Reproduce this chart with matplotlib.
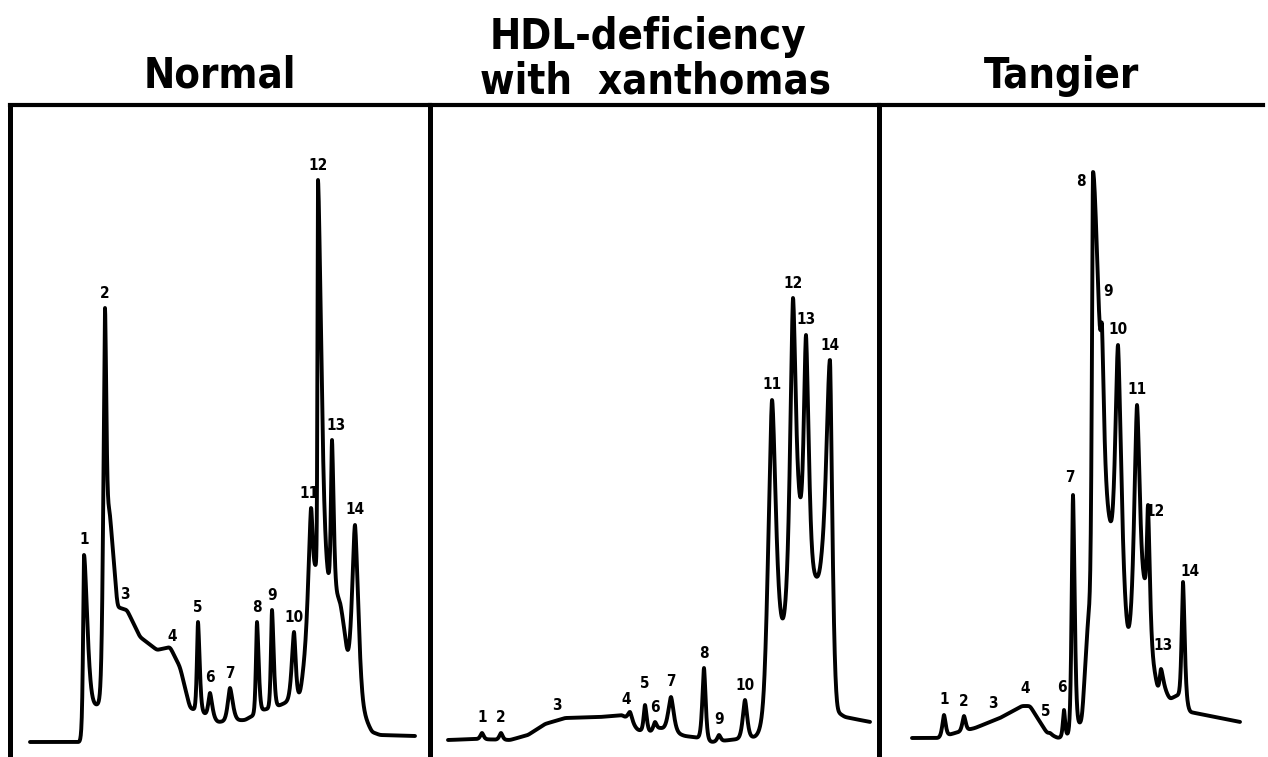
import numpy as np
import matplotlib
matplotlib.use("Agg")
import matplotlib.pyplot as plt
from matplotlib import font_manager

# condensed sans if one is installed, else Liberation Sans
faces = [(f.name, f.stretch) for f in font_manager.fontManager.ttflist]
if any(n == 'Liberation Sans Narrow' for n, s in faces):
    title_font = dict(family=['Liberation Sans Narrow', 'DejaVu Sans'], fontsize=34)
elif any(n == 'DejaVu Sans' and 'condensed' in str(s) for n, s in faces):
    title_font = dict(family=['DejaVu Sans'], fontstretch='condensed', fontsize=30)
else:
    title_font = dict(family=['Liberation Sans', 'DejaVu Sans'], fontsize=30)
plt.rcParams['font.family'] = title_font['family']

W, H = 1268, 757
titles = ["Normal", "HDL-deficiency\nwith  xanthomas", "Tangier"]
labels = [str(i) for i in range(1, 15)]

# Normal: elution position of fractions 1-14, peak height (None = shoulder), peak width left/right
normal_pos = [74, 95, 115, 162, 188, 200, 220, 247, 262, 284, 301, 308, 322, 345]
normal_top = [202, 449, None, None, 135, 64, 69, 135, 147, 125, 249, 577, 317, 232]
normal_wl = [0.8, 1.5, 0, 0, 1.0, 1.5, 2.0, 1.0, 1.0, 2.0, 2.5, 0.5, 1.0, 2.5]
normal_wr = [3.0, 1.5, 0, 0, 1.5, 2.0, 2.5, 1.5, 1.5, 1.5, 1.5, 3.0, 1.5, 3.0]
normal_base_x = [20, 71, 73, 88, 96, 99, 105, 107, 117, 130, 147, 160, 170, 180, 193, 208, 235,
                 253, 268, 282, 290, 297, 303, 306, 312, 318, 325, 330, 334, 338, 345, 352, 362, 370, 405]
normal_base_y = [15, 15, 45, 52, 60, 250, 184, 150, 147, 120, 107, 110, 90, 49, 44, 35, 37,
                 47, 51, 57, 62, 110, 170, 192, 185, 171, 163, 157, 130, 92, 80, 45, 25, 22, 21]

# HDL-deficiency with xanthomas
hdl_pos = [52, 71, 127, 200, 215, 225, 241, 274, 289, 315, 342, 363, 376, 400]
hdl_top = [24, 24, None, 45, 52, 35, 60, 89, 22, 57, 357, 459, 422, 397]
hdl_wl = [1.5, 1.5, 0, 2.0, 1.2, 1.5, 2.5, 1.5, 1.5, 2.0, 3.5, 2.5, 2.0, 3.5]
hdl_wr = [1.5, 1.5, 0, 2.0, 1.5, 1.5, 2.5, 1.5, 1.5, 2.0, 3.5, 2.5, 2.5, 2.0]
hdl_base_x = [18, 45, 80, 98, 115, 135, 170, 192, 208, 220, 230, 255, 270, 282, 300, 325, 334,
              342, 354, 369, 381, 386, 392, 399, 407, 415, 440]
hdl_base_y = [17, 18, 17, 22, 33, 39, 40, 42, 27, 25, 29, 21, 19, 15, 17, 20, 25,
              70, 128, 235, 180, 176, 166, 110, 45, 40, 35]

# Tangier
tang_pos = [65, 85, 114, 146, 171, 185, 194, 214, 223, 239, 258, 269, 282, 304]
tang_top = [42, 41, None, None, 24, 47, 262, 585, 432, 412, 352, 252, 88, 175]
tang_wl = [1.5, 1.5, 0, 0, 1.5, 1.0, 1.2, 1.0, 1.0, 2.5, 2.5, 1.0, 1.2, 1.2]
tang_wr = [1.5, 1.5, 0, 0, 1.5, 1.0, 1.5, 6.0, 1.5, 3.0, 2.5, 1.5, 2.0, 1.5]
tang_base_x = [33, 59, 76, 96, 121, 143, 151, 161, 168, 179, 189, 196, 203, 209, 214, 223, 231,
               239, 249, 258, 266, 269, 274, 279, 286, 291, 299, 304, 311, 331, 361]
tang_base_y = [19, 19, 24, 29, 39, 51, 51, 35, 24, 19, 22, 30, 35, 140, 170, 200, 200,
               160, 115, 130, 170, 150, 95, 66, 66, 58, 62, 60, 45, 41, 35]

panels = [
    (normal_pos, normal_top, normal_wl, normal_wr, normal_base_x, normal_base_y),
    (hdl_pos, hdl_top, hdl_wl, hdl_wr, hdl_base_x, hdl_base_y),
    (tang_pos, tang_top, tang_wl, tang_wr, tang_base_x, tang_base_y),
]
# label nudges (dx, dy) keyed by fraction number
nudges = [
    {11: (-2, 0), 13: (4, 0)},
    {4: (-4, -3), 5: (0, 6)},
    {3: (0, 2), 4: (0, 3), 5: (-4, 6), 6: (-2, 7), 7: (-3, 3), 8: (-12, -25),
     9: (6, 18), 12: (7, -22), 13: (2, 8), 14: (7, -5)},
]


def peak(x, c, wl, wr):
    w = np.where(x < c, wl, wr)
    return np.exp(-0.5 * (np.abs(x - c) / w) ** 1.6)


def chromatogram(pos, top, wl, wr, bx, by):
    x = np.arange(bx[0], bx[-1] + 0.25, 0.25)
    base = np.interp(x, bx, by)
    k = np.exp(-0.5 * (np.arange(-8, 8.25, 0.25) / 1.2) ** 2)
    k /= k.sum()
    base = np.convolve(np.pad(base, 32, mode='edge'), k, mode='same')[32:-32]
    idx = [i for i, t in enumerate(top) if t is not None]
    cx = np.array([pos[i] for i in idx], dtype=float)
    M = np.array([[peak(cx[a], pos[j], wl[j], wr[j]) for j in idx] for a in range(len(idx))])
    amp = np.linalg.solve(M, np.array([top[i] for i in idx]) - np.interp(cx, x, base))
    y = base.copy()
    for a, j in zip(amp, idx):
        y += a * peak(x, pos[j], wl[j], wr[j])
    return x, y


fig = plt.figure(figsize=(W / 100, H / 100), dpi=100)
edges = [10, 430, 879, 1263]
top_px = 105
for i, (pos, top, wl, wr, bx, by) in enumerate(panels):
    ax = fig.add_axes([edges[i] / W, 0, (edges[i + 1] - edges[i]) / W, 1 - top_px / H])
    ax.set_xlim(0, edges[i + 1] - edges[i])
    ax.set_ylim(0, H - top_px)
    x, y = chromatogram(pos, top, wl, wr, bx, by)
    ax.plot(x, y, color='black', lw=2.8, solid_joinstyle='round', solid_capstyle='round')
    for n, p in enumerate(pos):
        dx, dy = nudges[i].get(n + 1, (0, 0))
        ax.text(p + dx, np.interp(p, x, y) + 15 + dy, labels[n], ha='center', va='center',
                fontsize=11, fontweight='bold', fontstretch=title_font.get('fontstretch', 'normal'))
    ax.set_xticks([])
    ax.set_yticks([])
    ax.spines['right'].set_visible(False)
    ax.spines['bottom'].set_visible(False)
    ax.spines['left'].set_linewidth(3.6)
    ax.spines['top'].set_linewidth(3.0)

tkw = dict(ha='center', va='baseline', fontweight='bold', **title_font)
fig.text(220 / W, 1 - 88 / H, titles[0], **tkw)
line1, line2 = titles[1].split("\n")
fig.text(648 / W, 1 - 49 / H, line1, **tkw)
fig.text(655 / W, 1 - 93 / H, line2, **tkw)
fig.text(1062 / W, 1 - 88 / H, titles[2], **tkw)

fig.savefig('out.png', dpi=100)
